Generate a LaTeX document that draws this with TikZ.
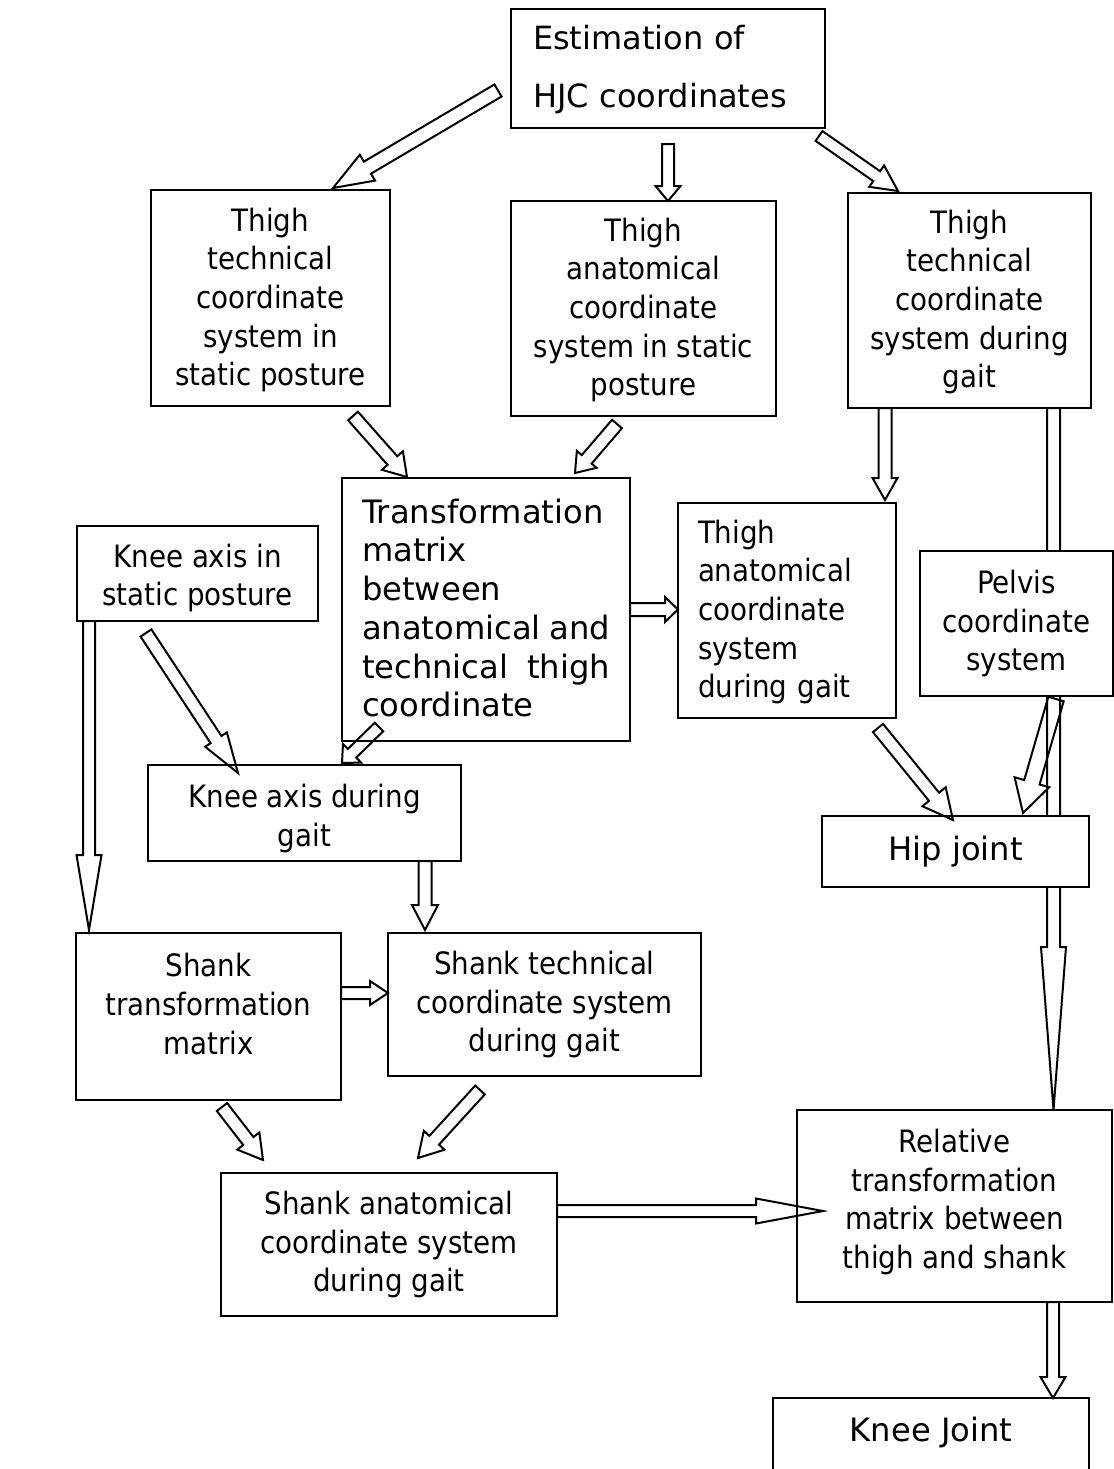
\documentclass[tikz,border=0pt]{standalone}
\usepackage{fontspec}
\setmainfont{DejaVu Sans Condensed}
\newfontfamily\widefont{DejaVu Sans}
\usetikzlibrary{calc}

% Hollow block arrow: #1 tail, #2 tip, #3 shaft half-width, #4 head half-width, #5 head length
\newcommand\blockarrow[5]{%
  \draw[blockline]
    ($(#1)!#3!90:(#2)$)
    -- ($(#2)!#5!(#1)!#3!-90:(#1)$)
    -- ($(#2)!#5!(#1)!#4!-90:(#1)$)
    -- (#2)
    -- ($(#2)!#5!(#1)!#4!90:(#1)$)
    -- ($(#2)!#5!(#1)!#3!90:(#1)$)
    -- ($(#1)!#3!-90:(#2)$)
    -- cycle;}

\begin{document}
\begin{tikzpicture}[x=0.5pt,y=-0.5pt,
  wh/.style 2 args={minimum width=#1*0.5pt, minimum height=#2*0.5pt},
  box/.style={draw, line width=1.2pt, fill=white, inner sep=0pt, align=center,
    font=\fontsize{15.4}{19.35}\selectfont},
  widebox/.style={box, font=\widefont\fontsize{16.1}{19.35}\selectfont},
  boxtext/.style={inner sep=0pt, align=center, font=\fontsize{15.4}{19.35}\selectfont},
  widetext/.style={boxtext, font=\widefont\fontsize{16.1}{19.35}\selectfont},
  blockline/.style={draw, line width=1pt, line join=miter}]

\clip (0,0) rectangle (1114,1469);
\fill[white] (0,0) rectangle (1114,1469);

% long arrow on the right, passing behind the pelvis and hip joint boxes
\coordinate (ttg-out) at (1053.5,408);
\coordinate (rel-in) at (1053.5,1110);
\blockarrow{ttg-out}{rel-in}{3.25pt}{6.25pt}{81.5pt}

% boxes
\node[box, wh={314}{119}] (hjc) at (668,68.5) {};
\node[widetext, align=left, text width=135pt,
  font=\widefont\fontsize{16}{29}\selectfont] (hjc-text) at (668,70)
  {Estimation of\\HJC coordinates};
\node[box, wh={239}{216}] (tts) at (270.5,298) {};
\node[boxtext] (tts-text) at (270.5,300)
  {Thigh\\technical\\coordinate\\system in\\static posture};
\node[box, wh={265}{215}] (tas) at (643.5,308.5) {};
\node[boxtext] (tas-text) at (643.5,310)
  {Thigh\\anatomical\\coordinate\\system in static\\posture};
\node[box, wh={243}{215}] (ttg) at (969.5,300.5) {};
\node[boxtext] (ttg-text) at (969.5,302)
  {Thigh\\technical\\coordinate\\system during\\gait};
\node[box, wh={288}{263}] (trm) at (486,609.5) {};
\node[widetext, align=left, text width=124pt] (trm-text) at (486,608)
  {Transformation\\matrix\\between\\\makebox[124pt]{anatomical\hfill and}\\%
   \makebox[124pt]{technical\hfill thigh}\\coordinate};
\node[box, wh={241}{95}] (kas) at (197.5,573.5) {};
\node[boxtext] (kas-text) at (197.5,578) {Knee axis in\\static posture};
\node[box, wh={218}{215}] (tag) at (787,610.5) {};
\node[boxtext, align=left, text width=89pt] (tag-text) at (787,612)
  {Thigh\\anatomical\\coordinate\\system\\during gait};
\node[box, wh={193}{145}] (pel) at (1016.5,623.5) {Pelvis\\coordinate\\system};
\node[box, wh={313}{96}] (kag) at (304.5,813) {};
\node[boxtext] (kag-text) at (304.5,818.5) {Knee axis during\\gait};
\node[widebox, wh={267}{71}] (hip) at (955.5,851.5) {Hip joint};
\node[box, wh={265}{167}] (stm) at (208.5,1016.5) {};
\node[boxtext] (stm-text) at (208.5,1004) {Shank\\transformation\\matrix};
\node[box, wh={313}{143}] (stc) at (544.5,1004.5)
  {Shank technical\\coordinate system\\during gait};
\node[box, wh={336}{143}] (sac) at (389,1244.5)
  {Shank anatomical\\coordinate system\\during gait};
\node[box, wh={315}{192}] (rel) at (954.5,1206) {};
\node[boxtext] (rel-text) at (954.5,1202)
  {Relative\\transformation\\matrix between\\thigh and shank};
\node[box, wh={316}{84}] (knee) at (931,1440) {};
\node[widetext] (knee-text) at (931,1432) {Knee Joint};

% arrow ends
\coordinate (hjc-a) at (498,90.5);   \coordinate (tts-in) at (333,188);
\coordinate (hjc-b) at (668,144);    \coordinate (tas-in) at (668,201);
\coordinate (hjc-c) at (819,136);    \coordinate (ttg-in) at (898,191);
\coordinate (tts-out) at (353,416);  \coordinate (trm-in1) at (407,477);
\coordinate (tas-out) at (617,424);  \coordinate (trm-in2) at (575,473);
\coordinate (ttg-out2) at (885,408); \coordinate (tag-in) at (885,500);
\coordinate (pel-out) at (1056,699); \coordinate (hip-in1) at (1023,813);
\coordinate (tag-out) at (878,728);  \coordinate (hip-in2) at (953,820);
\coordinate (trm-out) at (630,609.5);\coordinate (tag-in2) at (678,609.5);
\coordinate (kas-out) at (146,633);  \coordinate (kag-in1) at (238,773);
\coordinate (kas-out2) at (89,621);  \coordinate (stm-in) at (89,930);
\coordinate (trm-out2) at (379,727); \coordinate (kag-in2) at (342,763);
\coordinate (kag-out) at (425,861);  \coordinate (stc-in) at (425,930);
\coordinate (stm-out) at (341,993);  \coordinate (stc-in2) at (388,993);
\coordinate (stm-out2) at (222,1107);\coordinate (sac-in1) at (263,1160);
\coordinate (stc-out) at (480,1090); \coordinate (sac-in2) at (418,1158);
\coordinate (sac-out) at (557,1211); \coordinate (rel-in2) at (823,1211);
\coordinate (rel-out) at (1053,1302);\coordinate (knee-in) at (1053,1398);

% arrows
\blockarrow{hjc-a}{tts-in}{3.5pt}{7.5pt}{20pt}
\blockarrow{hjc-b}{tas-in}{3pt}{6.25pt}{7.5pt}
\blockarrow{hjc-c}{ttg-in}{3pt}{6.5pt}{13pt}
\blockarrow{tts-out}{trm-in1}{3.25pt}{7pt}{11pt}
\blockarrow{tas-out}{trm-in2}{3.25pt}{6.5pt}{9pt}
\blockarrow{ttg-out2}{tag-in}{3.25pt}{6.25pt}{11pt}
\blockarrow{pel-out}{hip-in1}{4pt}{9pt}{16pt}
\blockarrow{tag-out}{hip-in2}{3.25pt}{7.5pt}{15pt}
\blockarrow{trm-out}{tag-in2}{3.25pt}{6.25pt}{6.5pt}
\blockarrow{kas-out}{kag-in1}{3.25pt}{6.5pt}{20pt}
\blockarrow{kas-out2}{stm-in}{3pt}{6.25pt}{37.5pt}
\blockarrow{trm-out2}{kag-in2}{3pt}{6.5pt}{7pt}
\blockarrow{kag-out}{stc-in}{3.25pt}{6.5pt}{12.5pt}
\blockarrow{stm-out}{stc-in2}{3pt}{6pt}{9pt}
\blockarrow{stm-out2}{sac-in1}{3.25pt}{7pt}{12pt}
\blockarrow{stc-out}{sac-in2}{3.25pt}{7pt}{12pt}
\blockarrow{sac-out}{rel-in2}{3pt}{6.25pt}{33.5pt}
\blockarrow{rel-out}{knee-in}{3pt}{6.25pt}{10.5pt}
\end{tikzpicture}
\end{document}
